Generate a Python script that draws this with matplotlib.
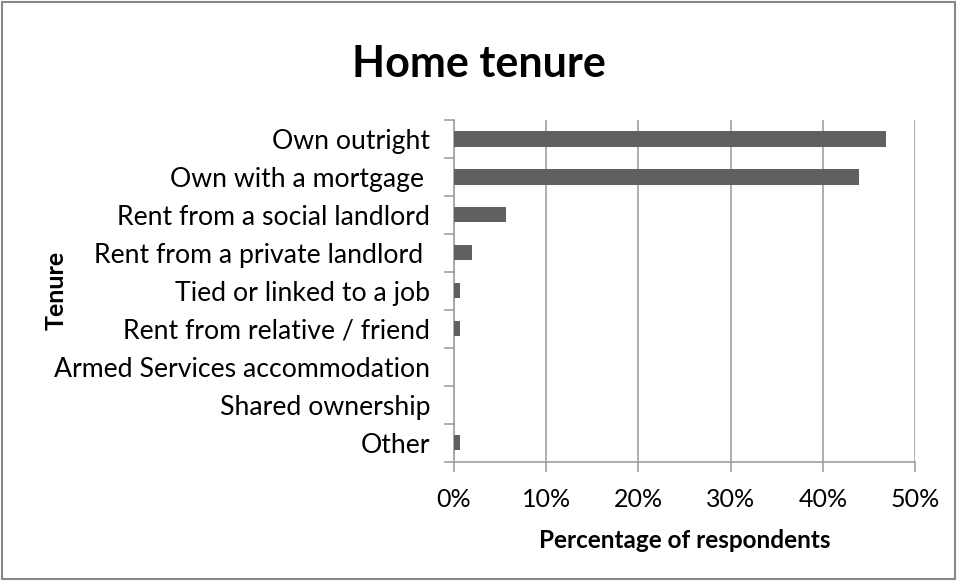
import matplotlib
matplotlib.use("Agg")
import matplotlib.pyplot as plt
from matplotlib.ticker import PercentFormatter

plt.rcParams['font.family'] = ['Lato', 'DejaVu Sans']

categories = ["Own outright", "Own with a mortgage ", "Rent from a social landlord",
              "Rent from a private landlord ", "Tied or linked to a job",
              "Rent from relative / friend", "Armed Services accommodation",
              "Shared ownership", "Other"]
values = [46.9, 43.9, 5.6, 2.0, 0.65, 0.65, 0.0, 0.0, 0.65]
xticks = [0, 10, 20, 30, 40, 50]

fig = plt.figure(figsize=(9.57, 5.81), dpi=100)
ax = fig.add_axes([0.4744, 0.2055, 0.4818, 0.5880])

pos = list(range(len(categories)))
ax.barh(pos, values, height=0.4, color="#606060", zorder=3)
ax.set_ylim(len(categories) - 0.5, -0.5)
ax.set_xlim(0, 50)
ax.set_xticks(xticks)
ax.xaxis.set_major_formatter(PercentFormatter(decimals=0))
ax.set_yticks(pos)
ax.set_yticklabels(categories)
ax.set_yticks([p + 0.5 for p in range(-1, len(categories))], minor=True)

ax.grid(axis="x", color="#a0a0a0", linewidth=1.2, zorder=0)
for s in ["top", "right"]:
    ax.spines[s].set_visible(False)
for s in ["left", "bottom"]:
    ax.spines[s].set_color("#a0a0a0")
    ax.spines[s].set_linewidth(1.2)

ax.tick_params(axis="y", which="major", length=0, labelsize=19.2, pad=17)
ax.tick_params(axis="y", which="minor", length=7, color="#a0a0a0", width=1.2)
ax.tick_params(axis="x", length=7, color="#a0a0a0", width=1.2, labelsize=18, pad=12)

ax.set_xlabel("Percentage of respondents", fontsize=17.5, fontweight="bold", labelpad=13)
fig.text(0.059, 0.5, "Tenure", rotation=90, fontsize=18, fontweight="bold",
         ha="center", va="center")
fig.text(0.5, 0.89, "Home tenure", fontsize=31, fontweight="bold",
         ha="center", va="center")

border = plt.Rectangle((0.002, 0.003), 0.996, 0.994, transform=fig.transFigure,
                       fill=False, edgecolor="#888888", linewidth=1.5)
fig.patches.append(border)

fig.savefig("out.png", dpi=100)
